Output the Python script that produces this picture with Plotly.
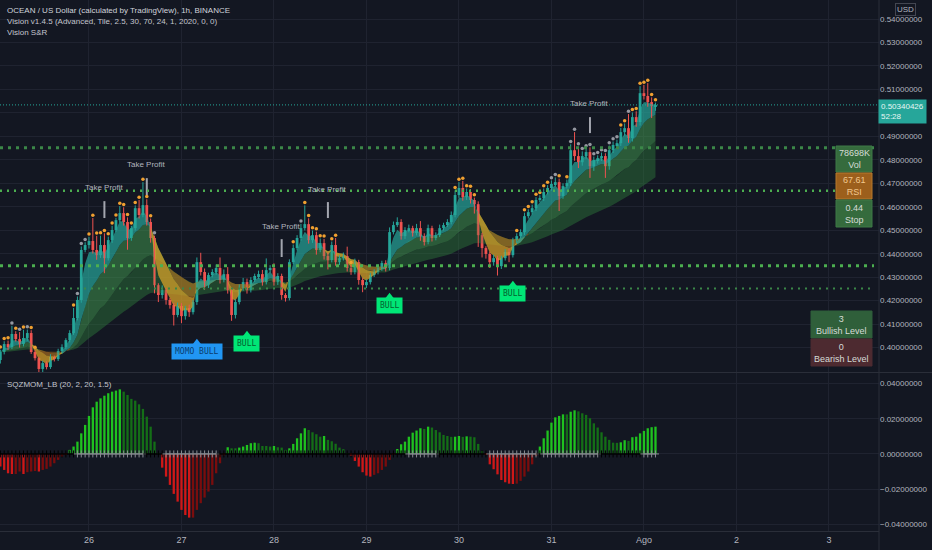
import pandas as pd
import plotly.graph_objects as go

# OCEAN / USD, 1h candles, 25 Jul 01:00 -> 1 Aug 03:00
start_hour = "2021-07-25 01:00"
first_open = 0.3947
closes = [
    0.3981, 0.4015, 0.4002, 0.4058, 0.4036, 0.4015, 0.4041, 0.4062, 0.3981, 0.3955,
    0.3909, 0.3934, 0.3917, 0.3960, 0.3951, 0.3985, 0.4002, 0.4032, 0.4062, 0.4126,
    0.4203, 0.4416, 0.4437, 0.4454, 0.4416, 0.4394, 0.4437, 0.4381, 0.4458, 0.4501,
    0.4543, 0.4573, 0.4535, 0.4467, 0.4509, 0.4594, 0.4565, 0.4607, 0.4535, 0.4467,
    0.4266, 0.4224, 0.4245, 0.4203, 0.4181, 0.4139, 0.4177, 0.4134, 0.4168, 0.4151,
    0.4194, 0.4364, 0.4322, 0.4266, 0.4309, 0.4322, 0.4339, 0.4288, 0.4313, 0.4245,
    0.4139, 0.4194, 0.4254, 0.4279, 0.4245, 0.4288, 0.4305, 0.4313, 0.4279, 0.4330,
    0.4339, 0.4279, 0.4305, 0.4224, 0.4211, 0.4364, 0.4424, 0.4467, 0.4509, 0.4526,
    0.4458, 0.4479, 0.4416, 0.4445, 0.4390, 0.4373, 0.4437, 0.4364, 0.4381, 0.4390,
    0.4339, 0.4322, 0.4364, 0.4288, 0.4266, 0.4279, 0.4309, 0.4322, 0.4339, 0.4360,
    0.4339, 0.4492, 0.4522, 0.4535, 0.4475, 0.4501, 0.4509, 0.4488, 0.4509, 0.4475,
    0.4450, 0.4509, 0.4467, 0.4479, 0.4509, 0.4522, 0.4535, 0.4565, 0.4650, 0.4680,
    0.4641, 0.4663, 0.4629, 0.4611, 0.4479, 0.4424, 0.4399, 0.4364, 0.4381, 0.4347,
    0.4381, 0.4407, 0.4394, 0.4458, 0.4475, 0.4492, 0.4560, 0.4577, 0.4594, 0.4629,
    0.4637, 0.4663, 0.4680, 0.4697, 0.4705, 0.4646, 0.4688, 0.4701, 0.4841, 0.4816,
    0.4790, 0.4816, 0.4833, 0.4773, 0.4799, 0.4807, 0.4816, 0.4773, 0.4841, 0.4863,
    0.4871, 0.4918, 0.4935, 0.4893, 0.4982, 0.4961, 0.5084, 0.5072, 0.5046, 0.5029,
    0.50340426,
]
# wick lengths above / below the body, in units of 0.0001
wick_up = [
    10, 12, 15, 35, 12, 30, 35, 15, 12, 8,
    6, 10, 8, 12, 6, 10, 12, 8, 12, 43,
    15, 15, 12, 18, 98, 60, 40, 50, 15, 18,
    10, 30, 25, 20, 10, 12, 35, 98, 25, 15,
    10, 8, 20, 10, 8, 10, 15, 12, 10, 15,
    8, 20, 40, 15, 10, 12, 15, 45, 20, 30,
    10, 12, 15, 18, 15, 12, 10, 15, 18, 50,
    12, 20, 12, 10, 8, 12, 15, 12, 18, 80,
    25, 20, 15, 20, 18, 15, 15, 30, 12, 15,
    40, 12, 15, 10, 8, 12, 10, 12, 15, 10,
    12, 20, 15, 20, 12, 12, 15, 10, 18, 30,
    12, 15, 10, 12, 15, 10, 12, 15, 20, 25,
    30, 15, 12, 10, 12, 10, 8, 10, 15, 10,
    10, 12, 15, 10, 12, 12, 15, 12, 15, 12,
    12, 15, 12, 15, 20, 15, 12, 15, 25, 77,
    40, 20, 15, 20, 15, 12, 15, 12, 20, 15,
    15, 18, 20, 60, 20, 25, 30, 35, 55, 20,
    10,
]
wick_dn = [
    15, 10, 12, 8, 10, 15, 10, 12, 8, 10,
    18, 15, 10, 8, 10, 8, 10, 8, 10, 8,
    10, 12, 10, 15, 15, 20, 12, 64, 10, 12,
    8, 10, 15, 50, 12, 10, 15, 10, 15, 20,
    35, 30, 15, 20, 15, 45, 10, 30, 15, 20,
    10, 12, 15, 20, 12, 10, 12, 15, 10, 15,
    25, 15, 10, 12, 15, 10, 8, 12, 15, 10,
    10, 15, 12, 20, 15, 10, 8, 10, 12, 10,
    15, 12, 20, 10, 15, 40, 10, 15, 12, 10,
    15, 12, 10, 20, 30, 12, 10, 8, 10, 12,
    15, 10, 10, 8, 15, 12, 10, 15, 10, 20,
    15, 10, 15, 10, 8, 10, 8, 10, 10, 12,
    15, 12, 15, 40, 50, 40, 20, 25, 15, 40,
    12, 10, 30, 10, 12, 10, 12, 10, 10, 12,
    10, 12, 10, 12, 10, 64, 12, 10, 12, 20,
    25, 15, 12, 50, 20, 15, 12, 50, 15, 12,
    15, 12, 15, 20, 15, 20, 15, 15, 20, 51,
    20,
]

# little dots above the highs (hour numbers, 1 = first candle)
dot_orange = [1, 2, 3, 5, 7, 9, 10, 20, 24, 25, 26, 27, 28, 29, 30, 31, 32, 33, 34, 35,
              36, 37, 38, 39, 40, 77, 80, 81, 82, 83, 84, 85, 87, 88, 92, 119, 120, 121,
              122, 123, 124, 135, 137, 138, 139, 140, 141, 142, 143, 146, 148, 162, 163,
              165, 166, 167, 168, 169, 170, 171]
dot_gray = [4, 6, 8, 21, 22, 23, 41, 79, 144, 145, 149, 150, 151, 152, 153, 154, 155,
            156, 157, 158, 159, 160, 161, 164]

# Vision S&R levels
levels = [0.4852, 0.4668, 0.4349, 0.4252]

# signal labels
signal_hours = [52, 65, 102, 134]
signal_text = ["MOMO BULL", "BULL", "BULL", "BULL"]
signal_price = [0.4019, 0.4053, 0.4215, 0.4266]

# take profit marks
tp_hours = [28, 39, 74, 86, 154]
tp_bar_lo = [0.4552, 0.4650, 0.4386, 0.4552, 0.4914]
tp_bar_hi = [0.4624, 0.4722, 0.4462, 0.4620, 0.4982]
tp_text_y = [0.4680, 0.4778, 0.4518, 0.4675, 0.5042]

# SQZMOM_LB histogram, one value per candle
sqz_mom = [
    -0.0072, -0.0091, -0.0110, -0.0114, -0.0114, -0.0100, -0.0114, -0.0104, -0.0100, -0.0097,
    -0.0100, -0.0091, -0.0085, -0.0072, -0.0053, -0.0034, -0.0015, -0.0006,
    0.0023, 0.0042, 0.0070, 0.0117, 0.0165, 0.0216, 0.0265, 0.0297, 0.0316, 0.0331,
    0.0345, 0.0354, 0.0360, 0.0367, 0.0354, 0.0335, 0.0313, 0.0303, 0.0282, 0.0256,
    0.0212, 0.0155, 0.0070, 0.0005,
    -0.0078, -0.0129, -0.0176, -0.0227, -0.0271, -0.0318, -0.0347, -0.0362, -0.0362, -0.0318,
    -0.0280, -0.0248, -0.0214, -0.0176, -0.0110, -0.0053, -0.0008,
    0.0038, 0.0032, 0.0032, 0.0036, 0.0042, 0.0051, 0.0061, 0.0064, 0.0061, 0.0045,
    0.0045, 0.0042, 0.0045, 0.0038, 0.0036, 0.0023, 0.0032, 0.0057, 0.0089, 0.0117,
    0.0146, 0.0136, 0.0123, 0.0112, 0.0098, 0.0102, 0.0080, 0.0072, 0.0058, 0.0036,
    0.0027, 0.0004,
    -0.0011, -0.0040, -0.0072, -0.0104, -0.0123, -0.0129, -0.0119, -0.0110, -0.0091, -0.0072,
    -0.0034, -0.0004,
    0.0028, 0.0055, 0.0070, 0.0098, 0.0121, 0.0133, 0.0146, 0.0142, 0.0155, 0.0150,
    0.0136, 0.0123, 0.0108, 0.0102, 0.0097, 0.0098, 0.0102, 0.0097, 0.0100, 0.0098,
    0.0095, 0.0057, 0.0017, -0.0006,
    -0.0059, -0.0087, -0.0116, -0.0148, -0.0161, -0.0169, -0.0171, -0.0169, -0.0153, -0.0129,
    -0.0100, -0.0059, -0.0011,
    0.0042, 0.0089, 0.0133, 0.0178, 0.0208, 0.0216, 0.0225, 0.0225, 0.0240, 0.0248,
    0.0242, 0.0231, 0.0222, 0.0203, 0.0174, 0.0150, 0.0123, 0.0098, 0.0080, 0.0064,
    0.0063, 0.0066, 0.0078, 0.0074, 0.0095, 0.0098, 0.0117, 0.0131, 0.0146, 0.0152,
    0.0155,
]
# hours where the squeeze crosses are gray (others black)
sqz_gray_spans = [(21, 38), (44, 57), (107, 114), (128, 140), (142, 156), (168, 171)]

last_price = 0.50340426
countdown = "52:28"
stats_text = ["78698K<br>Vol", "67.61<br>RSI", "0.44<br>Stop"]
level_count_text = ["3<br>Bullish Level", "0<br>Bearish Level"]

day_ticks = ["2021-07-26", "2021-07-27", "2021-07-28", "2021-07-29", "2021-07-30",
             "2021-07-31", "2021-08-01", "2021-08-02", "2021-08-03"]
day_labels = ["26", "27", "28", "29", "30", "31", "Ago", "2", "3"]
price_ticks = [0.40, 0.41, 0.42, 0.43, 0.44, 0.45, 0.46, 0.47, 0.48, 0.49, 0.50,
               0.51, 0.52, 0.53, 0.54]
mom_ticks = [-0.04, -0.02, 0.0, 0.02, 0.04]

assert len(closes) == len(wick_up) == len(wick_dn) == len(sqz_mom)

# ---- derived ----
n = len(closes)
t = pd.date_range(start_hour, periods=n, freq="h")
opens = [first_open] + closes[:-1]
highs = [max(o, c) + u * 1e-4 for o, c, u in zip(opens, closes, wick_up)]
lows = [min(o, c) - d * 1e-4 for o, c, d in zip(opens, closes, wick_dn)]

s = pd.Series(closes)
ema_fast = s.ewm(span=3, adjust=False).mean().tolist()
ema_mid = s.ewm(span=10, adjust=False).mean().tolist()
ema_slow = s.ewm(span=26, adjust=False).mean().tolist()
ema_base = s.ewm(span=60, adjust=False).mean().tolist()

BG = "#131722"
GRID = "#1f2330"
TXT = "#b2b5be"
FONT = "Liberation Sans, Arial, sans-serif"
UP, DN = "#26a69a", "#ef5350"
HOUR_MS = 3600 * 1000

W, H = 932, 550
PW, PH = 879, 531


def px(x):
    return x / PW


def py(y):
    return 1 - y / PH


fig = go.Figure()


def band(a, b, up_col, dn_col):
    up = [ai >= bi for ai, bi in zip(a, b)]
    i = 0
    while i < n:
        j = i
        while j + 1 < n and up[j + 1] == up[i]:
            j += 1
        hi = min(j + 1, n - 1)
        xs = list(t[i:hi + 1]) + list(t[i:hi + 1])[::-1]
        ys = a[i:hi + 1] + b[i:hi + 1][::-1]
        fig.add_trace(go.Scatter(x=xs, y=ys, fill="toself", mode="lines",
                                 fillcolor=up_col if up[i] else dn_col,
                                 line=dict(width=0), hoverinfo="skip", showlegend=False))
        i = j + 1


# Vision ribbons
band(ema_slow, ema_base, "rgba(46,125,60,0.45)", "rgba(130,85,25,0.55)")
band(ema_mid, ema_slow, "rgba(67,160,80,0.5)", "rgba(190,120,30,0.6)")
band(ema_fast, ema_mid, "rgba(38,166,154,0.7)", "rgba(214,160,40,0.75)")

# candles: wicks as lines, bodies as bars
rising = [c >= o for o, c in zip(opens, closes)]
for flag, col in [(True, UP), (False, DN)]:
    wx, wy = [], []
    for i in range(n):
        if rising[i] == flag:
            wx += [t[i], t[i], None]
            wy += [lows[i], highs[i], None]
    fig.add_trace(go.Scatter(x=wx, y=wy, mode="lines", line=dict(color=col, width=1),
                             hoverinfo="skip", showlegend=False))
fig.add_trace(go.Bar(
    x=t, y=[max(abs(c - o), 0.0002) for o, c in zip(opens, closes)],
    base=[min(o, c) for o, c in zip(opens, closes)],
    width=0.72 * HOUR_MS, marker=dict(color=[UP if r else DN for r in rising], line=dict(width=0)),
    hoverinfo="skip", showlegend=False))

# dots over the highs
for hours, col in [(dot_orange, "#f0a030"), (dot_gray, "#9598a1")]:
    fig.add_trace(go.Scatter(
        x=[t[h - 1] for h in hours], y=[highs[h - 1] + 0.0012 for h in hours],
        mode="markers", marker=dict(size=3.5, color=col), hoverinfo="skip", showlegend=False))

# take profit bars
tx, ty = [], []
for h, lo, hi in zip(tp_hours, tp_bar_lo, tp_bar_hi):
    tx += [t[h - 1], t[h - 1], None]
    ty += [lo, hi, None]
fig.add_trace(go.Scatter(x=tx, y=ty, mode="lines", line=dict(color="#a3a6af", width=2),
                         hoverinfo="skip", showlegend=False))
for h, y in zip(tp_hours, tp_text_y):
    fig.add_annotation(x=t[h - 1], y=y, text="Take Profit", showarrow=False,
                       xanchor="center", yanchor="middle",
                       font=dict(size=8, color=TXT, family=FONT))

# signal labels
for h, txt, y in zip(signal_hours, signal_text, signal_price):
    bg = "#2196f3" if txt.startswith("MOMO") else "#00e676"
    fg = "#0b3d6e" if txt.startswith("MOMO") else "#05602e"
    fig.add_trace(go.Scatter(x=[t[h - 1]], y=[y], mode="markers",
                             marker=dict(symbol="triangle-up", size=9, color=bg),
                             hoverinfo="skip", showlegend=False))
    fig.add_annotation(x=t[h - 1], y=y, xanchor="center", yanchor="top", text=txt,
                       showarrow=False, bgcolor=bg, borderpad=3,
                       font=dict(size=8, color=fg, family="DejaVu Sans Mono"))

# squeeze momentum histogram
bar_cols = []
for i, v in enumerate(sqz_mom):
    prev = sqz_mom[i - 1] if i > 0 else 0
    if v > 0:
        bar_cols.append("#1fc21f" if v > prev else "#146e17")
    else:
        bar_cols.append("#d01818" if v < prev else "#7a0d0d")
fig.add_trace(go.Bar(x=t, y=sqz_mom, marker=dict(color=bar_cols, line=dict(width=0)),
                     width=0.6 * HOUR_MS, yaxis="y2", hoverinfo="skip", showlegend=False))

cross_cols = []
for h in range(1, n + 1):
    gray = any(a <= h <= b for a, b in sqz_gray_spans)
    cross_cols.append("#8a8d93" if gray else "#000000")
fig.add_trace(go.Scatter(x=t, y=[0] * n, mode="markers", yaxis="y2",
                         marker=dict(symbol="cross-thin", size=5,
                                     line=dict(width=1, color=cross_cols)),
                         hoverinfo="skip", showlegend=False))

# S&R levels
level_style = [(3, "#3b8748", "3px,5px"), (2.5, "#4caf50", "2px,5px"),
               (3, "#4caf50", "3px,5px"), (2, "#3b8748", "2px,5px")]
for lv, (w, col, dash) in zip(levels, level_style):
    fig.add_shape(type="line", xref="paper", yref="y", x0=0, x1=px(874), y0=lv, y1=lv,
                  line=dict(color=col, width=w, dash=dash))

# last price line
fig.add_shape(type="line", xref="paper", yref="y", x0=0, x1=1, y0=last_price, y1=last_price,
              line=dict(color=UP, width=1, dash="1px,2px"))


# info boxes on the right
def box(x0, y0, x1, y1, fill, edge, text, fg):
    fig.add_shape(type="rect", xref="paper", yref="paper", x0=px(x0), x1=px(x1),
                  y0=py(y1), y1=py(y0), fillcolor=fill, line=dict(color=edge, width=1))
    fig.add_annotation(xref="paper", yref="paper", x=px((x0 + x1) / 2), y=py((y0 + y1) / 2),
                       xanchor="center", yanchor="middle", text=text, showarrow=False,
                       font=dict(size=9, color=fg, family=FONT))


box(836, 146, 872, 172, "#356b3d", "#3f7a47", stats_text[0], "#d7dcd8")
box(836, 173, 872, 199, "#9c5f1c", "#b87a2a", stats_text[1], "#f2c78c")
box(836, 200, 872, 227, "#356b3d", "#3f7a47", stats_text[2], "#d7dcd8")
box(811, 311, 872, 338, "#2f5f3a", "#2f5f3a", level_count_text[0], "#d7dcd8")
box(811, 339, 872, 366, "#4d2a30", "#4d2a30", level_count_text[1], "#d7dcd8")

# pane separator and axis borders
fig.add_shape(type="line", xref="paper", yref="paper", x0=0, x1=W / PW, y0=py(372.5),
              y1=py(372.5), line=dict(color="#2a2e39", width=1))
fig.add_shape(type="line", xref="paper", yref="paper", x0=1, x1=1, y0=py(H), y1=1,
              line=dict(color="#2a2e39", width=1))

# titles
titles = ["OCEAN / US Dollar (calculated by TradingView), 1h, BINANCE",
          "Vision v1.4.5 (Advanced, Tile, 2.5, 30, 70, 24, 1, 2020, 0, 0)",
          "Vision S&R"]
for k, txt in enumerate(titles):
    fig.add_annotation(xref="paper", yref="paper", x=px(5), y=py(11 + 11 * k), text=txt,
                       xanchor="left", yanchor="middle", showarrow=False,
                       font=dict(size=8, color="#d1d4dc" if k == 0 else "#c3c6ce", family=FONT))
fig.add_annotation(xref="paper", yref="paper", x=px(5), y=py(384), text="SQZMOM_LB (20, 2, 20, 1.5)",
                   xanchor="left", yanchor="middle", showarrow=False,
                   font=dict(size=8, color="#c3c6ce", family=FONT))

# right axis badges
fig.add_annotation(xref="paper", yref="paper", x=px(905), y=py(10), text="USD", showarrow=False,
                   xanchor="center", yanchor="middle",
                   bordercolor="#434651", borderwidth=1, borderpad=1,
                   font=dict(size=8, color=TXT, family=FONT))
fig.add_annotation(xref="paper", yref="y", x=1, xanchor="left", xshift=-1, y=last_price,
                   yanchor="top", yshift=6, align="left",
                   text=f"{last_price:.8f}<br>{countdown}", showarrow=False,
                   bgcolor=UP, borderpad=2,
                   font=dict(size=8, color="#e6f7f4", family=FONT))

# the last-price badge sits over the 0.50 label, as on the chart
price_ticktext = ["" if abs(v - 0.50) < 1e-9 else f"{v:.8f}" for v in price_ticks]

t_left = pd.Timestamp("2021-07-25") + pd.Timedelta(hours=0.91)
t_right = pd.Timestamp("2021-07-25") + pd.Timedelta(hours=229)

fig.update_layout(
    width=W, height=H,
    margin=dict(l=0, r=W - PW, t=0, b=H - PH),
    paper_bgcolor=BG, plot_bgcolor=BG,
    font=dict(family=FONT, color=TXT, size=8),
    showlegend=False, hovermode=False, barmode="overlay",
    xaxis=dict(domain=[0, 1], anchor="y2", type="date", range=[t_left, t_right],
               tickvals=day_ticks, ticktext=day_labels, showgrid=True, gridcolor=GRID,
               tickfont=dict(size=9, color=TXT), ticks="", showline=True,
               linecolor="#2a2e39", zeroline=False),
    yaxis=dict(domain=[py(372), 1], anchor="x", side="right", range=[0.3896, 0.5481],
               tickvals=price_ticks, ticktext=price_ticktext, showgrid=True, gridcolor=GRID,
               zeroline=False, ticks="", tickfont=dict(size=8, color=TXT)),
    yaxis2=dict(domain=[0, py(373)], anchor="x", side="right", range=[-0.0438, 0.0460],
                tickvals=mom_ticks, tickformat=".8f", showgrid=True, gridcolor=GRID,
                zeroline=False, ticks="", tickfont=dict(size=8, color=TXT)),
)

fig.write_html("out.html", config={"displayModeBar": False},
               post_script="document.body.style.margin='0';document.body.style.background='#131722';")
